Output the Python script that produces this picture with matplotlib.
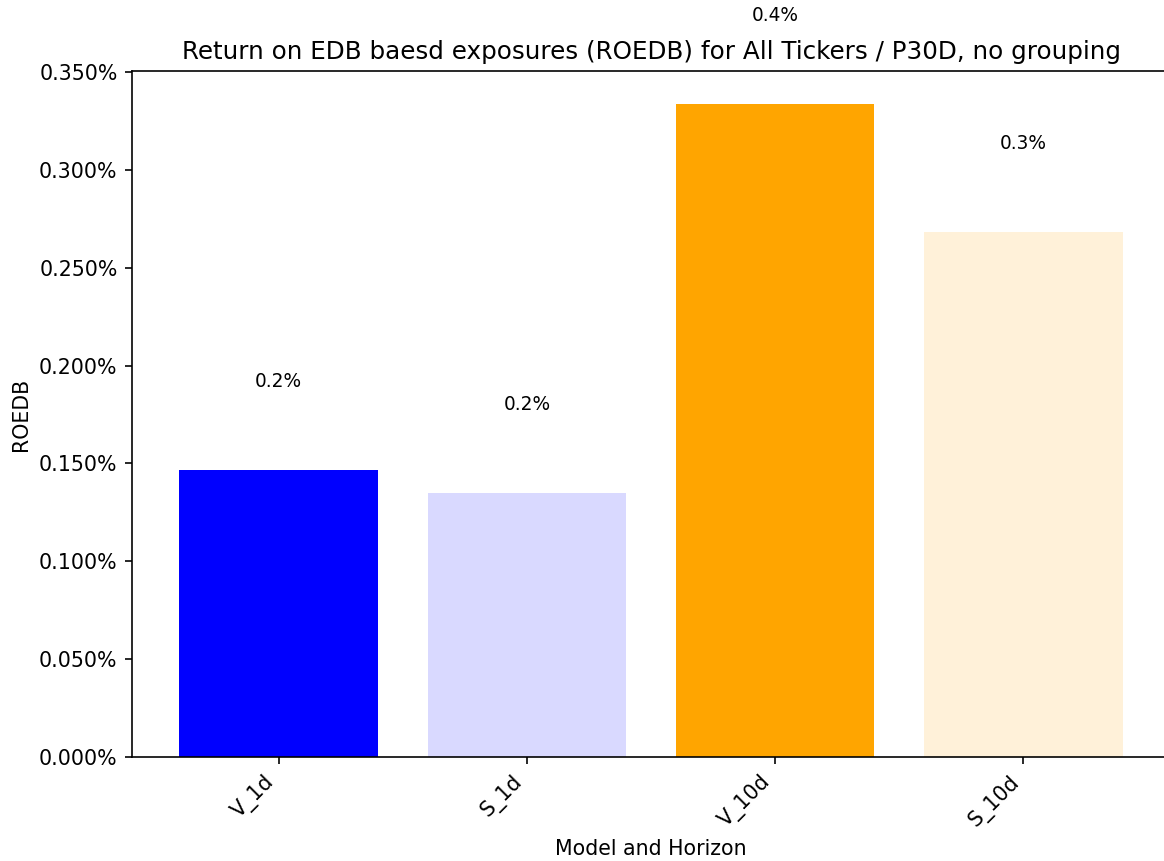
import matplotlib
matplotlib.use("Agg")
import matplotlib.pyplot as plt
from matplotlib.ticker import PercentFormatter

# values (fractions, shown as percent)
models = ["V_1d", "S_1d", "V_10d", "S_10d"]
roedb = [0.001467, 0.001351, 0.003338, 0.002684]
bar_colors = ["blue", "blue", "orange", "orange"]
bar_alphas = [1.0, 0.15, 1.0, 0.15]
label_offset = 0.00045

W, H, DPI = 1164, 861, 148
fig = plt.figure(figsize=(W / DPI, H / DPI), dpi=DPI)
ax = fig.add_axes([132 / W, (H - 757) / H, 1038 / W, (757 - 71) / H])

bars = ax.bar(models, roedb, color=bar_colors, width=0.8)
for b, a in zip(bars, bar_alphas):
    b.set_alpha(a)

# value labels floating above each bar (text taken from where they sit)
for b, v in zip(bars, roedb):
    y = v + label_offset
    ax.text(b.get_x() + b.get_width() / 2, y, f"{y * 100:.1f}%",
            ha="center", va="center", fontsize=9, clip_on=False)

ax.yaxis.set_major_formatter(PercentFormatter(xmax=1, decimals=3))
ax.set_title("Return on EDB baesd exposures (ROEDB) for All Tickers / P30D, no grouping",
             fontsize=12)
ax.set_xlabel("Model and Horizon")
ax.set_ylabel("ROEDB")
plt.setp(ax.get_xticklabels(), rotation=45, ha="right")
ax.spines["right"].set_visible(False)

fig.savefig("out.png", dpi=DPI)
